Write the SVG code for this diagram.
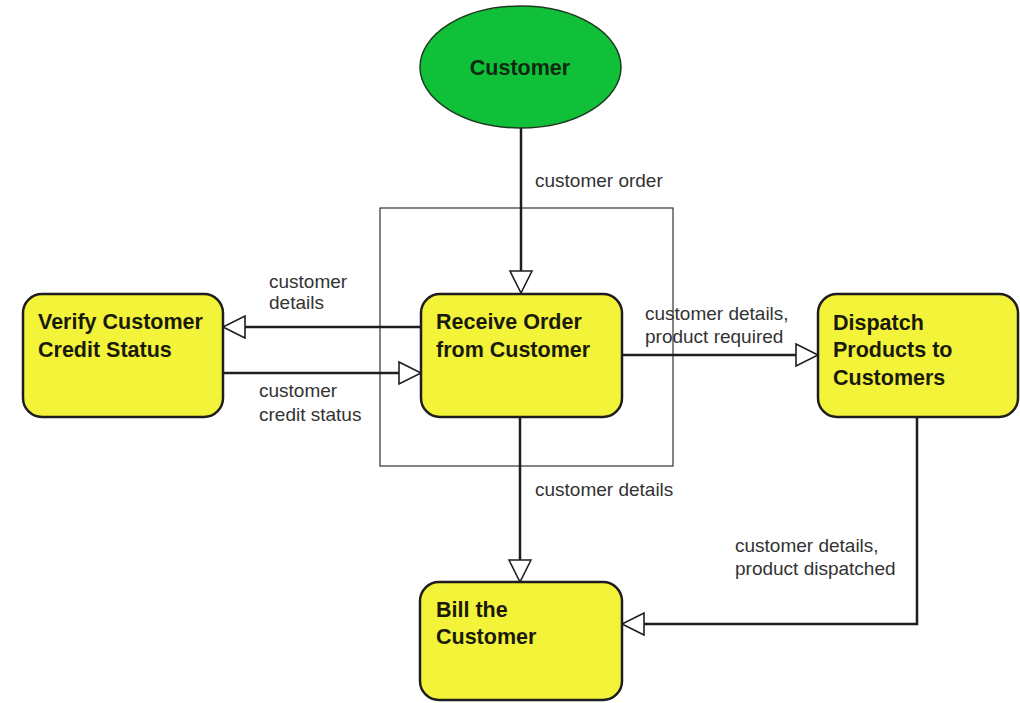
<svg xmlns="http://www.w3.org/2000/svg" width="1020" height="703" viewBox="0 0 1020 703">
  <style>
    .proc { fill: #f3f33a; stroke: #1e1e1e; stroke-width: 2.5; }
    .ext { fill: #10c038; stroke: #1e3a1e; stroke-width: 1.5; }
    .name { font-family: "Liberation Sans", Arial, sans-serif; font-size: 21.5px; font-weight: bold; fill: #1a1a0a; }
    .flow { fill: none; stroke: #1e1e1e; stroke-width: 2.5; marker-end: url(#open); }
    .lbl { font-family: "Liberation Sans", Arial, sans-serif; font-size: 19px; fill: #333; }
    .scope { fill: none; stroke: #333; stroke-width: 1.2; }
  </style>
  <defs>
    <marker id="open" markerUnits="userSpaceOnUse" markerWidth="26" markerHeight="26" viewBox="-2 -2 26 26" refX="0" refY="11" orient="auto" overflow="visible">
      <path d="M0,0 L22,11 L0,22 Z" fill="#fff" stroke="#1e1e1e" stroke-width="1.6" stroke-linejoin="miter"/>
    </marker>
  </defs>

  <rect width="1020" height="703" fill="#fff"/>

  <!-- system boundary around the order-taking process -->
  <rect class="scope" x="380" y="208" width="293" height="258"/>

  <g id="connectors">
    <path class="flow" d="M521 128 V271"/>
    <path class="flow" d="M421 327 H245"/>
    <path class="flow" d="M223 373 H399"/>
    <path class="flow" d="M622 355 H796"/>
    <path class="flow" d="M520 417 V560"/>
    <path class="flow" d="M917 417 V624 H644"/>

    <text class="lbl" x="535" y="187">customer order</text>
    <text class="lbl" x="269" y="288">customer</text>
    <text class="lbl" x="269" y="309">details</text>
    <text class="lbl" x="259" y="397">customer</text>
    <text class="lbl" x="259" y="421">credit status</text>
    <text class="lbl" x="645" y="320">customer details,</text>
    <text class="lbl" x="645" y="343">product required</text>
    <text class="lbl" x="535" y="496">customer details</text>
    <text class="lbl" x="735" y="552">customer details,</text>
    <text class="lbl" x="735" y="575">product dispatched</text>
  </g>

  <g id="customer">
    <ellipse class="ext" cx="520.5" cy="67" rx="100.5" ry="61"/>
    <text class="name" x="520" y="75" text-anchor="middle" style="fill:#0e2a10">Customer</text>
  </g>

  <g id="verify-credit">
    <rect class="proc" x="23" y="294" width="200" height="123" rx="19"/>
    <text class="name" x="38" y="329">Verify Customer</text>
    <text class="name" x="38" y="357">Credit Status</text>
  </g>

  <g id="receive-order">
    <rect class="proc" x="421" y="294" width="201" height="123" rx="19"/>
    <text class="name" x="436" y="329">Receive Order</text>
    <text class="name" x="436" y="357">from Customer</text>
  </g>

  <g id="dispatch-products">
    <rect class="proc" x="818" y="294" width="200" height="123" rx="19"/>
    <text class="name" x="833" y="330">Dispatch</text>
    <text class="name" x="833" y="357">Products to</text>
    <text class="name" x="833" y="385">Customers</text>
  </g>

  <g id="bill-customer">
    <rect class="proc" x="420" y="582" width="202" height="118" rx="19"/>
    <text class="name" x="436" y="617">Bill the</text>
    <text class="name" x="436" y="644">Customer</text>
  </g>
</svg>
